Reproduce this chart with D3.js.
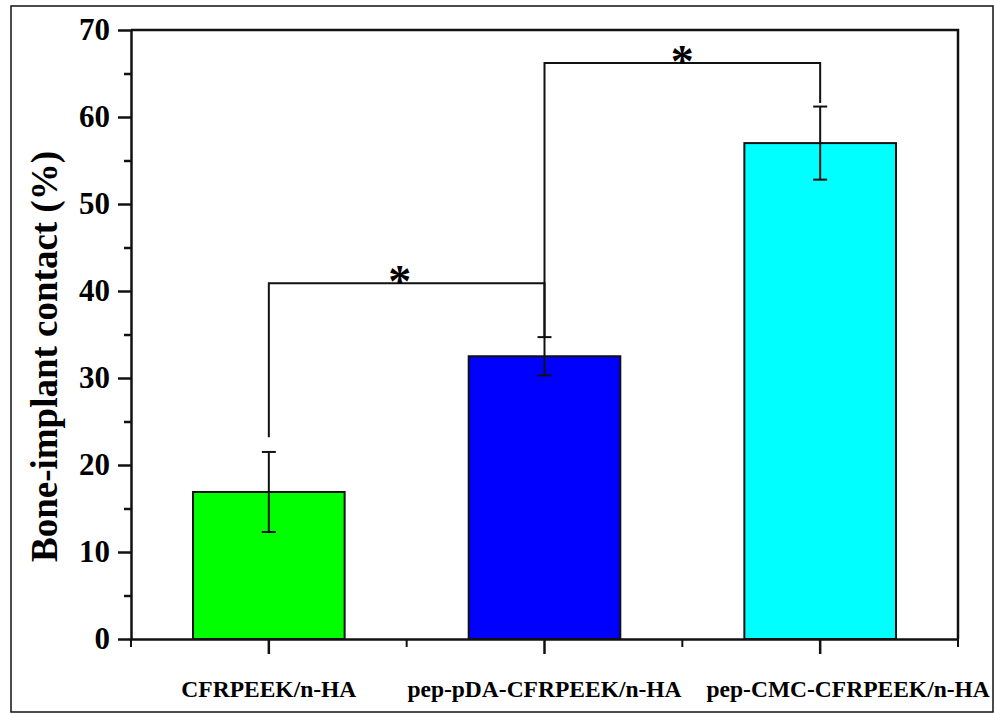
<html>
<script src='https://d3js.org/d3.v7.min.js'></script>
<style>
    body { margin: 0; background: #fff; }
    text { font-family: "Liberation Serif", "Times New Roman", serif; font-weight: bold; }
</style>
<body>
<svg width=995 height=713 id="chart"></svg>
<script>
    // data
    const groups = ["CFRPEEK/n-HA", "pep-pDA-CFRPEEK/n-HA", "pep-CMC-CFRPEEK/n-HA"];
    const means = [16.9, 32.5, 57.0];
    const errors = [4.6, 2.2, 4.2];
    const barColors = ["#00ff00", "#0000ff", "#00ffff"];
    const yTicks = [0, 10, 20, 30, 40, 50, 60, 70];
    // significance brackets: [from group, to group, bar height, left leg end, right leg end]
    const brackets = [
        [0, 1, 40.9, 23.2, 34.7],
        [1, 2, 66.2, 34.7, 61.6]
    ];

    function draw() {
        var svg = d3.select("svg");
        var left = 131, right = 958, plotTop = 30, bottom = 639;

        // outer frame
        svg.append("rect")
            .attr("x", 11).attr("y", 6).attr("width", 982).attr("height", 706)
            .attr("fill", "none").attr("stroke", "#111").attr("stroke-width", 1.5);

        var x = d3.scaleBand().domain(groups).range([left, right]).paddingInner(0).paddingOuter(0);
        var y = d3.scaleLinear().domain([0, 70]).range([bottom, plotTop]);
        var barW = x.bandwidth() * 0.55;

        // bars
        svg.selectAll(".bar")
            .data(groups)
            .enter()
            .append("rect")
            .attr("class", "bar")
            .attr("x", function(d) { return x(d) + (x.bandwidth() - barW) / 2; })
            .attr("y", function(d, i) { return y(means[i]); })
            .attr("width", barW)
            .attr("height", function(d, i) { return y(0) - y(means[i]); })
            .attr("fill", function(d, i) { return barColors[i]; })
            .attr("stroke", "#111").attr("stroke-width", 2);

        // error bars
        var cx = function(i) { return x(groups[i]) + x.bandwidth() / 2; };
        var eb = svg.append("g").attr("stroke", "#111").attr("stroke-width", 2);
        groups.forEach(function(d, i) {
            eb.append("line").attr("x1", cx(i)).attr("x2", cx(i))
                .attr("y1", y(means[i] + errors[i])).attr("y2", y(means[i] - errors[i]));
            [1, -1].forEach(function(s) {
                eb.append("line").attr("x1", cx(i) - 7).attr("x2", cx(i) + 7)
                    .attr("y1", y(means[i] + s * errors[i])).attr("y2", y(means[i] + s * errors[i]));
            });
        });

        // significance brackets
        brackets.forEach(function(b, k) {
            var x1 = cx(b[0]), x2 = cx(b[1]);
            svg.append("path")
                .attr("d", "M" + x1 + "," + y(b[3]) + "V" + y(b[2]) + "H" + x2 + "V" + y(b[4]))
                .attr("fill", "none").attr("stroke", "#111").attr("stroke-width", 2);
            svg.append("text")
                .attr("x", (x1 + x2) / 2 + (k == 0 ? -7 : 0)).attr("y", y(b[2]) + 14)
                .attr("text-anchor", "middle")
                .attr("font-size", 46)
                .text("*");
        });

        // y axis with minor ticks
        var yAxis = svg.append("g").attr("transform", "translate(" + left + ",0)")
            .call(d3.axisLeft(y).tickValues(yTicks).tickSize(13).tickPadding(8).tickSizeOuter(0));
        yAxis.selectAll(".tick text").attr("font-size", 31)
            .style("font-family", "Liberation Serif").style("font-weight", "bold");
        svg.append("g").attr("transform", "translate(" + left + ",0)")
            .call(d3.axisLeft(y).tickValues(d3.range(5, 70, 10)).tickSize(7).tickFormat(""))
            .select(".domain").remove();

        // x axis: major at centers, minor at band edges
        var xAxis = svg.append("g").attr("transform", "translate(0," + bottom + ")")
            .call(d3.axisBottom(x).tickSize(15).tickPadding(26).tickSizeOuter(0));
        xAxis.selectAll(".tick text").attr("font-size", 23.5)
            .style("font-family", "Liberation Serif").style("font-weight", "bold")
            .attr("dx", function(d, i) { return i == 2 ? 28 : 0; });
        var edges = [left].concat(groups.map(function(d) { return x(d) + x.bandwidth(); }));
        svg.append("g").selectAll("line").data(edges).enter().append("line")
            .attr("x1", function(d) { return d; }).attr("x2", function(d) { return d; })
            .attr("y1", bottom).attr("y2", bottom + 8)
            .attr("stroke", "#111").attr("stroke-width", 2);

        svg.selectAll(".domain").attr("stroke-width", 2.5).attr("stroke", "#111");
        svg.selectAll(".tick line").attr("stroke-width", 2.5).attr("stroke", "#111");

        // top and right frame of plot
        svg.append("path")
            .attr("d", "M" + left + "," + plotTop + "H" + right + "V" + bottom)
            .attr("fill", "none").attr("stroke", "#111").attr("stroke-width", 2.5);

        // y label
        svg.append("text")
            .attr("transform", "translate(57," + ((plotTop + bottom) / 2 + 22) + ") rotate(-90)")
            .attr("text-anchor", "middle")
            .attr("font-size", 37)
            .text("Bone-implant contact (%)");
    }
    draw();
</script>
</body>
</html>
